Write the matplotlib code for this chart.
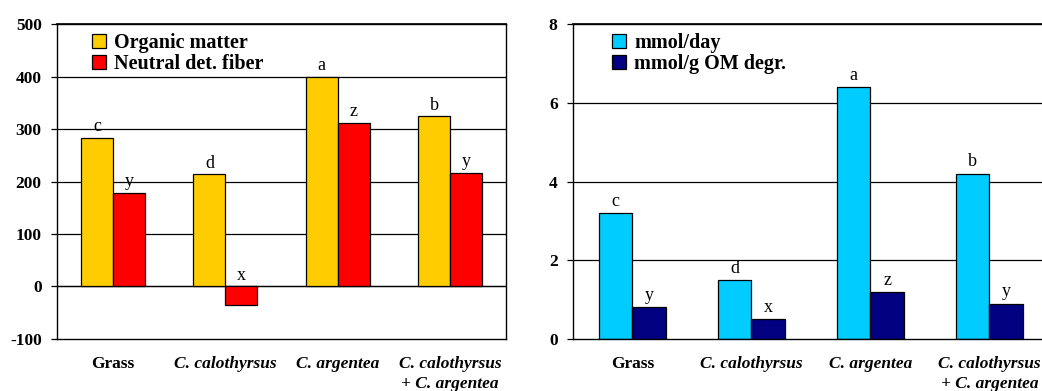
import matplotlib.pyplot as plt
import numpy as np

plt.rcParams['font.family'] = ['Liberation Serif', 'DejaVu Serif']
plt.rcParams['axes.unicode_minus'] = False

# categorias y valores
categorias = ['Grass', 'C. calothyrsus', 'C. argentea', 'C. calothyrsus\n+ C. argentea']
om = [283, 214, 400, 324]
ndf = [178, -36, 312, 216]
letras_om = ['c', 'd', 'a', 'b']
letras_ndf = ['y', 'x', 'z', 'y']

mmol_dia = [3.2, 1.5, 6.4, 4.2]
mmol_om = [0.8, 0.5, 1.2, 0.9]
letras_dia = ['c', 'd', 'a', 'b']
letras_gom = ['y', 'x', 'z', 'y']

fig = plt.figure(figsize=(10.42, 3.91), dpi=100)
ax1 = fig.add_axes([0.0547, 0.133, 0.431, 0.8056])
ax2 = fig.add_axes([0.5499, 0.133, 0.4568, 0.8056])

x = np.arange(len(categorias))
w = 0.285

def grafica(ax, a, b, la, lb, ca, cb, nombres, ylim, ticks, off, leg_x):
    ax.set_ylim(*ylim)
    ax.set_xlim(-0.5, len(categorias) - 0.5)
    ax.set_yticks(ticks)
    for t in ticks[1:-1]:
        ax.axhline(t, color='black', lw=0.9, zorder=0)
    ax.axhline(ticks[-1], color='black', lw=1.2, zorder=3, clip_on=False)
    ax.bar(x - w/2, a, w, color=ca, edgecolor='black', lw=0.9, label=nombres[0], zorder=2)
    ax.bar(x + w/2, b, w, color=cb, edgecolor='black', lw=0.9, label=nombres[1], zorder=2)
    for i in range(len(x)):
        ax.text(x[i] - w/2, a[i] + off, la[i], ha='center', va='bottom', fontsize=13)
        ax.text(x[i] + w/2, max(b[i], 0) + off, lb[i], ha='center', va='bottom', fontsize=13)
    ax.set_xticks(x)
    ax.set_xticklabels([])
    ax.tick_params(axis='x', length=0)
    ax.tick_params(axis='y', length=4, width=0.9, labelsize=12.5, pad=7)
    for lab in ax.get_yticklabels():
        lab.set_fontweight('bold')
    for i, c in enumerate(categorias):
        estilo = 'normal' if c == 'Grass' else 'italic'
        ax.text(x[i], -0.055, c, transform=ax.get_xaxis_transform(), ha='center', va='top',
                fontsize=12.5, fontweight='bold', style=estilo, linespacing=1.3)
    for s in ax.spines.values():
        s.set_linewidth(1.0)
    ax.legend(loc='upper left', bbox_to_anchor=(leg_x, 1.01), frameon=False,
              prop={'weight': 'bold', 'size': 14.5}, handlelength=0.7, handleheight=0.7,
              handletextpad=0.4, labelspacing=0.05, borderaxespad=0.2)

grafica(ax1, om, ndf, letras_om, letras_ndf, '#FFCC00', '#FF0000',
        ['Organic matter', 'Neutral det. fiber'], (-100, 500), list(range(-100, 501, 100)), 5, 0.05)
grafica(ax2, mmol_dia, mmol_om, letras_dia, letras_gom, '#00CCFF', '#000080',
        ['mmol/day', 'mmol/g OM degr.'], (0, 8), [0, 2, 4, 6, 8], 0.08, 0.057)
ax1.axhline(0, color='black', lw=0.9, zorder=1)

fig.savefig('out.png', dpi=100)
